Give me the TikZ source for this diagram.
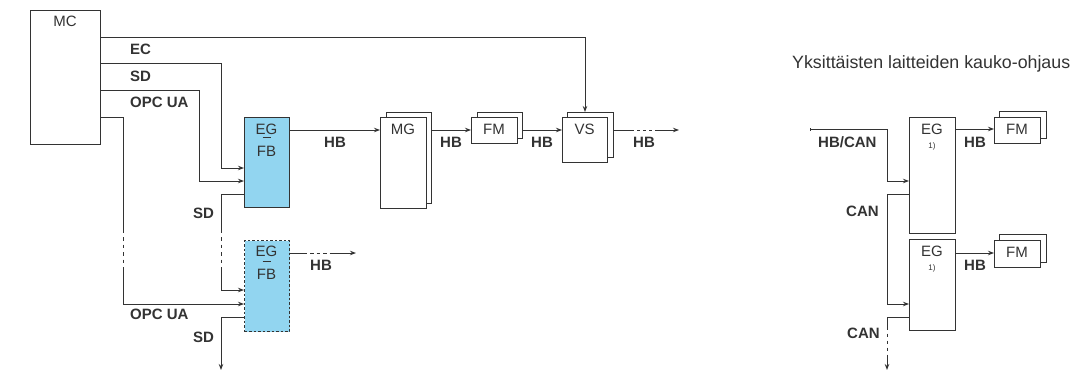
\documentclass[tikz,border=0pt]{standalone}
\usepackage{fontspec}
\setmainfont{Liberation Sans}
\usetikzlibrary{arrows.meta,calc}
\definecolor{lc}{HTML}{333333}
\definecolor{fbblue}{HTML}{92D5F0}
\begin{document}
\begin{tikzpicture}[x=1pt,y=-1pt,
  ln/.style={draw=lc, line width=1pt},
  arr/.style={ln, -{Stealth[length=6pt,width=4.5pt]}},
  gapline/.style={ln, dash pattern=on 3.5pt off 4pt, dash phase=3.5pt},
  box/.style={draw=lc, line width=1pt, fill=white, inner sep=0pt, anchor=north west},
  fbbox/.style={box, fill=fbblue},
  lbl/.style={font=\fontsize{15}{15}\selectfont\bfseries, text=lc, inner sep=0pt, anchor=base west},
  btxt/.style={font=\fontsize{15}{15}\selectfont, text=lc, inner sep=0pt, anchor=base},
  small/.style={font=\fontsize{8}{8}\selectfont, text=lc, inner sep=0pt, anchor=base}
]
\useasboundingbox (0,0) rectangle (1077,373);

% ---------- left part: boxes ----------
\node[box, minimum width=70pt, minimum height=134pt] (mc) at (30,10) {};
\node[btxt] at (65,26) {MC};

\node[fbbox, minimum width=45pt, minimum height=90pt] (eg1) at (244,117) {};
\node[btxt] at (266.5,134) {EG};
\draw[ln] (262.5,137.5) -- (270.5,137.5);
\node[btxt] at (266.5,156) {FB};

\node[fbbox, minimum width=45pt, minimum height=91pt, dash pattern=on 2.5pt off 2pt] (eg2) at (244,240) {};
\node[btxt] at (266.5,256) {EG};
\draw[ln] (262.5,261) -- (270.5,261);
\node[btxt] at (266.5,279) {FB};

\node[box, minimum width=45pt, minimum height=91pt] (mgb) at (386,112) {};
\node[box, minimum width=46pt, minimum height=91pt] (mgf) at (380,117) {};
\node[btxt] at (403,134) {MG};

\node[box, minimum width=45pt, minimum height=26pt] (fmb) at (477,112) {};
\node[box, minimum width=46pt, minimum height=26pt] (fmf) at (471,117) {};
\node[btxt] at (494,134) {FM};

\node[box, minimum width=46pt, minimum height=45pt] (vsb) at (567,112) {};
\node[box, minimum width=45pt, minimum height=45pt] (vsf) at (562,117) {};
\node[btxt] at (584.5,134) {VS};

% ---------- left part: connectors ----------
\draw[arr] (mc.east |- 0,37) -| (vsf.north |- vsb.north);
\draw[arr] (mc.east |- 0,63) -- (221,63) -- (221,168) -- (eg1.west |- 0,168);
\draw[arr] (mc.east |- 0,90) -- (199,90) -- (199,181) -- (eg1.west |- 0,181);

\draw[ln] (mc.east |- 0,117) -- (123,117) -- (123,233);
\draw[gapline] (123,233) -- (123,269);
\draw[arr] (123,269) -- (123,304) -- (eg2.west |- 0,304);

\draw[ln] (eg1.west |- 0,194) -- (221,194) -- (221,233);
\draw[gapline] (221,233) -- (221,269);
\draw[arr] (221,269) -- (221,290) -- (eg2.west |- 0,290);

\draw[arr] (eg2.west |- 0,317) -- (221,317) -- (221,370);

\draw[arr] (eg1.east |- 0,130) -- (mgf.west |- 0,130);
\draw[arr] (mgb.east |- 0,130) -- (fmf.west |- 0,130);
\draw[arr] (fmb.east |- 0,130) -- (vsf.west |- 0,130);
\coordinate (vsend) at (679,130);
\draw[arr, dash pattern=on 20pt off 3pt on 3pt off 3pt on 3pt off 3pt on 3pt off 3pt on 100pt] (vsb.east |- 0,130) -- (vsend);
\coordinate (eg2end) at (356,253);
\draw[arr, dash pattern=on 17pt off 3pt on 3.5pt off 3pt on 3.5pt off 3pt on 3.5pt off 3pt on 100pt] (eg2.east |- 0,253) -- (eg2end);

% ---------- left part: labels ----------
\node[lbl] at (130,54) {EC};
\node[lbl] at (130,81) {SD};
\node[lbl] at (130,107) {OPC UA};
\node[lbl] at (324,147) {HB};
\node[lbl] at (193,218) {SD};
\node[lbl] at (310,270) {HB};
\node[lbl] at (130,319) {OPC UA};
\node[lbl] at (193,342) {SD};
\node[lbl] at (440,147) {HB};
\node[lbl] at (531,147) {HB};
\node[lbl] at (633,147) {HB};

% ---------- right part ----------
\node[font=\fontsize{17.8}{17.8}\selectfont, text=lc, inner sep=0pt, anchor=base west] (title) at (792,68) {Yksittäisten laitteiden kauko-ohjaus};

\node[box, minimum width=46pt, minimum height=116pt] (reg1) at (909,117) {};
\node[btxt] at (932,134) {EG};
\node[small] at (932,148) {1)};

\node[box, minimum width=46pt, minimum height=91pt] (reg2) at (909,239) {};
\node[btxt] at (932,256) {EG};
\node[small] at (932,270) {1)};

\node[box, minimum width=47pt, minimum height=27pt] (rfm1b) at (999,111) {};
\node[box, minimum width=46pt, minimum height=26pt] (rfm1f) at (994,117) {};
\node[btxt] at (1017,134) {FM};

\node[box, minimum width=47pt, minimum height=28pt] (rfm2b) at (999,234) {};
\node[box, minimum width=46pt, minimum height=27pt] (rfm2f) at (994,240) {};
\node[btxt] at (1017,257) {FM};

\coordinate (hbcan) at (810,129);
\draw[ln, {Bar[width=3pt,line width=1.2pt]}-{Stealth[length=6pt,width=4.5pt]}] (hbcan) -- (887,129) -- (887,181) -- (reg1.west |- 0,181);
\draw[arr] (reg1.west |- 0,194) -- (887,194) -- (887,304) -- (reg2.west |- 0,304);
\draw[ln] (reg2.west |- 0,317) -- (887,317) -- (887,330);
\draw[ln, dash pattern=on 3.5pt off 3.5pt, dash phase=3.5pt] (887,330) -- (887,358);
\draw[arr] (887,358) -- (887,370);

\draw[arr] (reg1.east |- 0,129) -- (rfm1f.west |- 0,129);
\draw[arr] (reg2.east |- 0,253) -- (rfm2f.west |- 0,253);

\node[lbl] at (818,147) {HB/CAN};
\node[lbl] at (964,147) {HB};
\node[lbl] at (846,216) {CAN};
\node[lbl] at (964,270) {HB};
\node[lbl] at (847,338) {CAN};
\end{tikzpicture}
\end{document}
